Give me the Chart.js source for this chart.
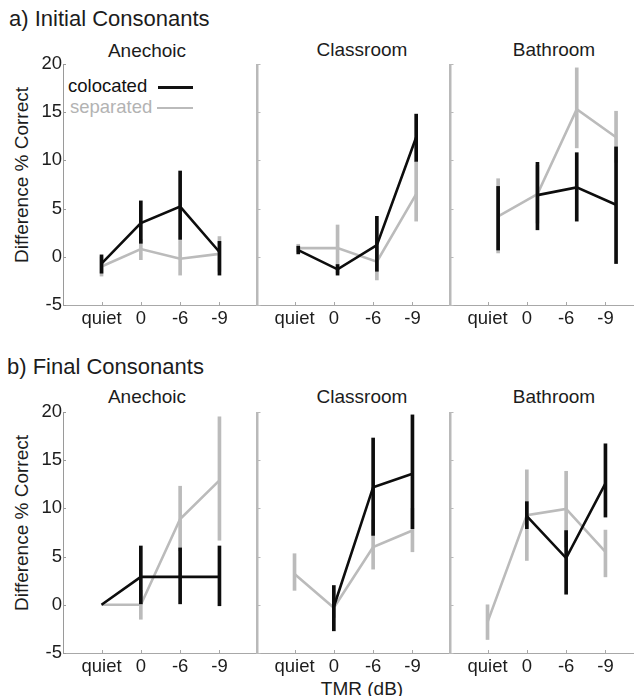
<!DOCTYPE html>
<html><head><meta charset="utf-8">
<script src="https://cdn.jsdelivr.net/npm/chart.js@4.4.1/dist/chart.umd.min.js"></script>
<style>
html,body{margin:0;padding:0;background:#fff;overflow:hidden;width:634px;height:696px;}
body{position:relative;font-family:"Liberation Sans",Arial,Helvetica,sans-serif;color:#1c1c1c;}
.t{position:absolute;white-space:nowrap;line-height:1;}
.c{transform:translate(-50%,-50%);}
.l{transform:translate(0,-50%);}
.r{transform:translate(-50%,-50%) rotate(-90deg);}
.sw{position:absolute;}
canvas{position:absolute;}
</style></head><body>
<div class="t l" style="left:9px;top:19px;font-size:22px;">a) Initial Consonants</div>
<div class="t l" style="left:7px;top:367px;font-size:22px;">b) Final Consonants</div>
<div class="t c" style="left:147px;top:50px;font-size:19px;">Anechoic</div>
<div class="t c" style="left:362px;top:49px;font-size:19px;">Classroom</div>
<div class="t c" style="left:554px;top:49px;font-size:19px;">Bathroom</div>
<div class="t c" style="left:147px;top:396px;font-size:19px;">Anechoic</div>
<div class="t c" style="left:362px;top:396px;font-size:19px;">Classroom</div>
<div class="t c" style="left:554px;top:396px;font-size:19px;">Bathroom</div>
<div class="t r" style="left:21px;top:175px;font-size:19px;">Difference % Correct</div>
<div class="t r" style="left:21px;top:523px;font-size:19px;">Difference % Correct</div>
<div class="t c" style="left:362px;top:688px;font-size:19px;">TMR (dB)</div>
<div class="t l" style="left:68px;top:86px;font-size:18.5px;color:#111;">colocated</div>
<div class="t l" style="left:70px;top:107px;font-size:18.5px;color:#b3b3b3;">separated</div>
<div class="sw" style="left:158px;top:85.5px;width:35px;height:3px;background:#111;"></div>
<div class="sw" style="left:157px;top:106.5px;width:36px;height:2.5px;background:#bbbbbb;"></div>
<script>
// ---------- shared labels ----------
const categories = ['quiet', '0', '-6', '-9'];
const yTickValues = [-5, 0, 5, 10, 15, 20];
const yTickLabels = ['-5', '0', '5', '10', '15', '20'];

// ---------- a) Initial consonants ----------
const iniAneCol   = [-0.7, 3.5, 5.2, 0.5];
const iniAneColLo = [-1.7, 1.4, 1.8, -1.9];
const iniAneColHi = [0.2, 5.8, 8.9, 1.6];
const iniAneSep   = [-1.0, 0.8, -0.2, 0.3];
const iniAneSepLo = [-2.0, -0.3, -1.9, -1.5];
const iniAneSepHi = [0.0, 1.8, 1.7, 2.1];

const iniClaCol   = [0.7, -1.3, 1.2, 12.4];
const iniClaColLo = [0.3, -1.9, -1.5, 9.9];
const iniClaColHi = [1.1, -0.8, 4.2, 14.8];
const iniClaSep   = [0.9, 0.9, -0.5, 6.5];
const iniClaSepLo = [0.5, -1.7, -2.4, 3.7];
const iniClaSepHi = [1.3, 3.3, 1.1, 9.9];

const iniBatCol   = [null, 6.4, 7.2, 5.4];
const iniBatColLo = [0.7, 2.8, 3.7, -0.7];
const iniBatColHi = [7.3, 9.8, 10.8, 11.4];
const iniBatSep   = [4.2, 6.5, 15.3, 12.4];
const iniBatSepLo = [0.4, 3.5, 11.3, 9.8];
const iniBatSepHi = [8.1, 9.5, 19.6, 15.1];

// ---------- b) Final consonants ----------
const finAneCol   = [0, 2.9, 2.9, 2.9];
const finAneColLo = [null, 0.1, 0.1, -0.1];
const finAneColHi = [null, 6.1, 5.9, 6.1];
const finAneSep   = [0, 0, 8.9, 12.9];
const finAneSepLo = [null, -1.5, 5.6, 6.7];
const finAneSepHi = [null, 1.5, 12.3, 19.5];

const finClaCol   = [null, -0.2, 12.2, 13.6];
const finClaColLo = [null, -2.7, 7.2, 7.9];
const finClaColHi = [null, 2.0, 17.3, 19.7];
const finClaSep   = [3.2, -0.3, 6.0, 7.7];
const finClaSepLo = [1.5, -1.3, 3.7, 5.5];
const finClaSepHi = [5.3, 0.8, 8.8, 10.0];

const finBatCol   = [null, 9.2, 4.85, 12.6];
const finBatColLo = [null, 7.9, 1.1, 9.1];
const finBatColHi = [null, 10.7, 7.7, 16.7];
const finBatSep   = [-1.8, 9.3, 9.95, 5.5];
const finBatSepLo = [-3.6, 4.6, 6.0, 2.9];
const finBatSepHi = [0.0, 14.0, 13.85, 7.75];

// small horizontal displacement of the plotted data in the scanned top row (category units)
const iniShift = [0, 0.095, 0.27];
const finShift = [0, 0, 0];

// ---------- styling / layout ----------
const BLACK = '#0d0d0d';
const GRAY = '#bbbbbb';
const AXIS = '#a8a8a8';
const TXT = '#1c1c1c';
const panelLeft = [63, 256, 449];
const rowTop = [64, 412];
const PW = 193, PH = 241;
const PAD = {left: 62, top: 10, right: 4, bottom: 30};

const axesPlugin = {
  id: 'panelAxes',
  beforeDatasetsDraw(chart, args, opts) {
    const ctx = chart.ctx, ca = chart.chartArea, xs = chart.scales.x, ys = chart.scales.y;
    ctx.save();
    ctx.strokeStyle = AXIS;
    // x axis
    ctx.lineWidth = 1;
    ctx.beginPath();
    ctx.moveTo(ca.left, ca.bottom + 0.5); ctx.lineTo(ca.right, ca.bottom + 0.5);
    ctx.stroke();
    categories.forEach((c, i) => {
      const px = Math.round(xs.getPixelForValue(i)) + 0.5;
      ctx.beginPath(); ctx.moveTo(px, ca.bottom); ctx.lineTo(px, ca.bottom - 3); ctx.stroke();
    });
    // y axis
    ctx.lineWidth = opts.yw;
    ctx.strokeStyle = opts.yc;
    ctx.beginPath();
    ctx.moveTo(ca.left + opts.yw / 2, ca.top); ctx.lineTo(ca.left + opts.yw / 2, ca.bottom);
    ctx.stroke();
    ctx.lineWidth = 1;
    yTickValues.forEach(v => {
      const py = Math.round(ys.getPixelForValue(v)) + 0.5;
      ctx.beginPath(); ctx.moveTo(ca.left, py); ctx.lineTo(ca.left + opts.yw + 2, py); ctx.stroke();
    });
    // labels
    ctx.fillStyle = TXT;
    ctx.font = '18.5px "Liberation Sans", Arial, sans-serif';
    ctx.textAlign = 'center'; ctx.textBaseline = 'middle';
    categories.forEach((c, i) => ctx.fillText(c, xs.getPixelForValue(i), ca.bottom + 14));
    if (opts.showY) {
      ctx.textAlign = 'right';
      yTickValues.forEach((v, i) => ctx.fillText(yTickLabels[i], ca.left - 1, ys.getPixelForValue(v)));
    }
    ctx.restore();
  }
};

function lineData(vals, shift) {
  return vals.map((v, i) => ({x: i + shift, y: v}));
}
function barData(lo, hi, shift) {
  const out = [];
  lo.forEach((l, i) => { if (l !== null && hi[i] !== null) out.push({x: i + shift, y: [l, hi[i]]}); });
  return out;
}

const panels = [
  [iniAneCol, iniAneColLo, iniAneColHi, iniAneSep, iniAneSepLo, iniAneSepHi, iniShift[0], 0, 0],
  [iniClaCol, iniClaColLo, iniClaColHi, iniClaSep, iniClaSepLo, iniClaSepHi, iniShift[1], 0, 1],
  [iniBatCol, iniBatColLo, iniBatColHi, iniBatSep, iniBatSepLo, iniBatSepHi, iniShift[2], 0, 2],
  [finAneCol, finAneColLo, finAneColHi, finAneSep, finAneSepLo, finAneSepHi, finShift[0], 1, 0],
  [finClaCol, finClaColLo, finClaColHi, finClaSep, finClaSepLo, finClaSepHi, finShift[1], 1, 1],
  [finBatCol, finBatColLo, finBatColHi, finBatSep, finBatSepLo, finBatSepHi, finShift[2], 1, 2]
];

panels.forEach(p => {
  const [col, colLo, colHi, sep, sepLo, sepHi, shift, row, colIdx] = p;
  const cv = document.createElement('canvas');
  const w = PAD.left + PW + PAD.right, h = PAD.top + PH + PAD.bottom;
  cv.width = w; cv.height = h;
  cv.style.width = w + 'px'; cv.style.height = h + 'px';
  cv.style.left = (panelLeft[colIdx] - PAD.left) + 'px';
  cv.style.top = (rowTop[row] - PAD.top) + 'px';
  document.body.appendChild(cv);
  new Chart(cv, {
    type: 'line',
    data: {
      datasets: [
        {type: 'bar', data: barData(colLo, colHi, shift), backgroundColor: BLACK, barThickness: 3, grouped: false, borderWidth: 0, order: 0},
        {type: 'line', data: lineData(col, shift), borderColor: BLACK, borderWidth: 2.6, pointRadius: 0, tension: 0, spanGaps: false, fill: false, order: 1},
        {type: 'line', data: lineData(sep, shift), borderColor: GRAY, borderWidth: 2.6, pointRadius: 0, tension: 0, spanGaps: false, fill: false, order: 2},
        {type: 'bar', data: barData(sepLo, sepHi, shift), backgroundColor: GRAY, barThickness: 3, grouped: false, borderWidth: 0, order: 3}
      ]
    },
    options: {
      responsive: false,
      animation: false,
      devicePixelRatio: 1,
      layout: {padding: PAD},
      scales: {
        x: {type: 'linear', min: -0.98, max: 3.93, offset: false, display: false},
        y: {type: 'linear', min: -5, max: 20, display: false}
      },
      plugins: {
        legend: {display: false},
        tooltip: {enabled: false},
        panelAxes: {showY: colIdx === 0, yw: colIdx === 0 ? 1 : 2.5, yc: colIdx === 0 ? '#9a9a9a' : '#b9b9b9'}
      },
      clip: false
    },
    plugins: [axesPlugin]
  });
});
</script>
</body></html>
